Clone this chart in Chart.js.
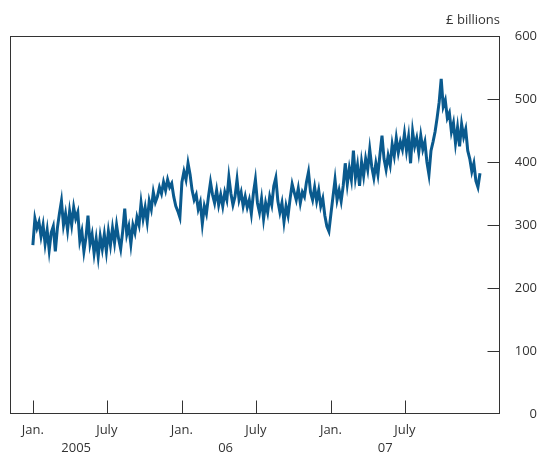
<!DOCTYPE html>
<html>
<head>
<meta charset="utf-8">
<script src="https://cdn.jsdelivr.net/npm/chart.js@4.4.0/dist/chart.umd.min.js"></script>
<style>
  html, body { margin: 0; padding: 0; background: #fff; }
</style>
</head>
<body>
<canvas id="grafico" width="537" height="452"></canvas>
<script>
// days counted from 1 Jan 2005, one reading every 5 days
const startDay = 0;
const stepDays = 5;
const valores = [
  268, 310, 295, 305, 282, 300, 270, 292, 260, 288,
  298, 258, 295, 318, 338, 300, 318, 292, 322, 300,
  328, 310, 320, 275, 290, 258, 280, 315, 270, 285,
  255, 278, 250, 282, 262, 285, 258, 290, 268, 295,
  272, 300, 278, 262, 290, 326, 285, 298, 270, 300,
  288, 312, 300, 335, 310, 328, 305, 338, 325, 352,
  336, 345, 360, 350, 368, 355, 372, 360, 366, 345,
  330, 322, 312, 368, 385, 372, 398, 380, 355, 340,
  348, 325, 336, 302, 330, 318, 345, 368, 348, 335,
  355, 332, 348, 330, 352, 340, 376, 350, 332, 345,
  372, 340, 352, 330, 345, 328, 340, 318, 350, 372,
  335, 320, 342, 310, 335, 320, 345, 332, 362, 375,
  338, 320, 335, 305, 330, 315, 342, 365, 352, 340,
  358, 335, 352, 345, 368, 384, 352, 340, 360, 338,
  355, 330, 342, 315, 298, 290, 318, 345, 372, 340,
  355, 338, 362, 398, 365, 390, 372, 418, 375, 395,
  362, 400, 378, 405, 388, 420, 392, 375, 398, 380,
  412, 442, 405, 388, 410, 395, 428, 410, 438, 415,
  432, 420, 445, 418, 440, 398, 448, 425, 438, 415,
  442, 420, 432, 400, 380, 418, 432, 448, 470, 495,
  532, 488, 498, 470, 478, 448, 462, 430, 455, 425,
  460, 440, 452, 418, 405, 385, 398, 370, 360, 382
];

const tickDays = [0, 181, 365, 546, 730, 911];
const tickLabels = ["Jan.", "July", "Jan.", "July", "Jan.", "July"];
const yearDays = [106, 472, 863];
const yearLabels = ["2005", "06", "07"];
const yTicks = [0, 100, 200, 300, 400, 500, 600];

const pontos = valores.map((v, i) => ({x: startDay + i * stepDays, y: v}));

Chart.defaults.font.family = '"Open Sans", sans-serif';
Chart.defaults.font.size = 13;
Chart.defaults.color = '#333';

const moldura = {
  id: 'moldura',
  afterDraw(chart) {
    const {ctx, chartArea: a, scales} = chart;
    ctx.save();
    ctx.strokeStyle = '#333';
    ctx.lineWidth = 1;
    const l = Math.round(a.left) + 0.5, r = Math.round(a.right) - 0.5;
    const t = Math.round(a.top) + 0.5, b = Math.round(a.bottom) - 0.5;
    ctx.strokeRect(l, t, r - l, b - t);
    ctx.beginPath();
    yTicks.slice(1, -1).forEach(v => {
      const y = Math.round(scales.y.getPixelForValue(v)) + 0.5;
      ctx.moveTo(r - 12, y);
      ctx.lineTo(r, y);
    });
    tickDays.forEach(d => {
      const x = Math.round(scales.x.getPixelForValue(d)) + 0.5;
      ctx.moveTo(x, b - 13);
      ctx.lineTo(x, b);
    });
    ctx.stroke();
    ctx.fillStyle = '#333';
    ctx.font = '13px "Open Sans", sans-serif';
    ctx.textAlign = 'right';
    ctx.textBaseline = 'middle';
    ctx.fillText('£ billions', a.right, a.top - 16);
    // year labels under the month labels
    ctx.textAlign = 'center';
    ctx.textBaseline = 'top';
    yearLabels.forEach((txt, i) => {
      ctx.fillText(txt, scales.x.getPixelForValue(yearDays[i]), a.bottom + 28);
    });
    ctx.restore();
  }
};

new Chart(document.getElementById('grafico'), {
  type: 'line',
  data: {
    datasets: [{
      data: pontos,
      borderColor: '#0a5a8e',
      borderWidth: 3,
      pointRadius: 0,
      tension: 0,
      fill: false
    }]
  },
  options: {
    responsive: false,
    animation: false,
    layout: {padding: {left: 10, top: 36, right: 0, bottom: 0}},
    plugins: {
      legend: {display: false},
      tooltip: {enabled: false}
    },
    scales: {
      x: {
        type: 'linear',
        position: 'bottom',
        min: -56,
        max: 1144,
        grid: {display: false},
        border: {display: false},
        afterBuildTicks: s => { s.ticks = tickDays.map(v => ({value: v})); },
        afterFit: s => { s.height = 38; },
        ticks: {
          autoSkip: false,
          maxRotation: 0,
          padding: 0,
          callback: (v, i) => tickLabels[i]
        }
      },
      y: {
        position: 'right',
        min: 0,
        max: 600,
        grid: {display: false},
        border: {display: false},
        afterBuildTicks: s => { s.ticks = yTicks.map(v => ({value: v})); },
        afterFit: s => { s.width = 37; },
        ticks: {
          padding: 4,
          crossAlign: 'far'
        }
      }
    }
  },
  plugins: [moldura]
});
</script>
</body>
</html>
